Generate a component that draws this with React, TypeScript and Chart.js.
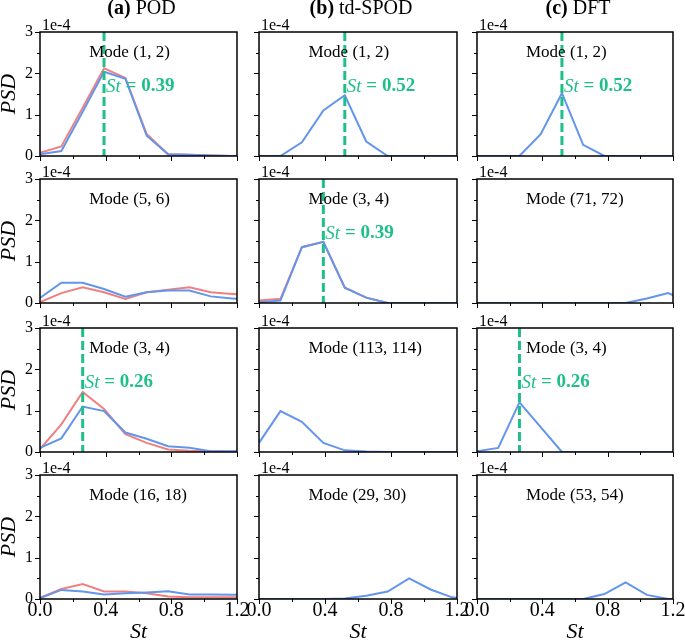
import React, { useEffect, useRef } from 'react';
import { Chart, registerables } from 'chart.js';

Chart.register(...registerables);

const FONT = '"Liberation Serif", "Times New Roman", Times, serif';

// ---------- data (PSD in units of 1e-4) ----------
const ST = [0, 0.13, 0.26, 0.39, 0.52, 0.65, 0.78, 0.91, 1.04, 1.17, 1.3];
const X_TICK_STEP = 0.4;
const Y_TICK_STEP = 1;
const COLUMN_TAGS = ['(a)', '(b)', '(c)'];
const COLUMN_NAMES = ['POD', 'td-SPOD', 'DFT'];

const MODES_ROW1 = ['Mode (1, 2)', 'Mode (1, 2)', 'Mode (1, 2)'];
const MODES_ROW2 = ['Mode (5, 6)', 'Mode (3, 4)', 'Mode (71, 72)'];
const MODES_ROW3 = ['Mode (3, 4)', 'Mode (113, 114)', 'Mode (3, 4)'];
const MODES_ROW4 = ['Mode (16, 18)', 'Mode (29, 30)', 'Mode (53, 54)'];

const PEAKS_ROW1 = [0.39, 0.52, 0.52];
const PEAKS_ROW2 = [null, 0.39, null];
const PEAKS_ROW3 = [0.26, null, 0.26];
const PEAKS_ROW4 = [null, null, null];

const POD_1_RED = [0.08, 0.23, 1.17, 2.12, 1.89, 0.53, 0.04, 0.03, 0.01, 0.0, 0.0];
const POD_1_BLUE = [0.04, 0.12, 1.07, 2.04, 1.87, 0.49, 0.04, 0.03, 0.01, 0.0, 0.0];
const SPOD_1_BLUE = [0, 0, 0.33, 1.1, 1.47, 0.35, 0, 0, 0, 0, 0];
const DFT_1_BLUE = [0, 0, 0, 0.53, 1.52, 0.27, 0, 0, 0, 0, 0];

const POD_2_RED = [0.02, 0.24, 0.38, 0.26, 0.1, 0.26, 0.32, 0.38, 0.26, 0.22, 0.18];
const POD_2_BLUE = [0.12, 0.49, 0.49, 0.34, 0.15, 0.26, 0.3, 0.3, 0.16, 0.11, 0.07];
const SPOD_2_RED = [0.06, 0.1, 1.35, 1.48, 0.37, 0.13, 0, 0, 0, 0, 0];
const SPOD_2_BLUE = [0.02, 0.06, 1.35, 1.48, 0.37, 0.13, 0, 0, 0, 0, 0];
const DFT_2_BLUE = [0, 0, 0, 0, 0, 0, 0, 0, 0.11, 0.24, 0.03];

const POD_3_RED = [0.07, 0.67, 1.45, 1.04, 0.43, 0.22, 0.06, 0.03, 0.02, 0.01, 0.01];
const POD_3_BLUE = [0.1, 0.33, 1.1, 0.99, 0.47, 0.32, 0.14, 0.1, 0.02, 0.02, 0.02];
const SPOD_3_BLUE = [0.22, 0.99, 0.73, 0.22, 0.04, 0.01, 0, 0, 0, 0, 0];
const DFT_3_BLUE = [0.02, 0.1, 1.2, 0.6, 0, 0, 0, 0, 0, 0, 0];

const POD_4_RED = [0.03, 0.24, 0.36, 0.18, 0.18, 0.14, 0.06, 0.04, 0.04, 0.04, 0.04];
const POD_4_BLUE = [0.02, 0.22, 0.18, 0.11, 0.14, 0.16, 0.19, 0.11, 0.11, 0.1, 0.1];
const SPOD_4_BLUE = [0, 0, 0, 0, 0.01, 0.08, 0.18, 0.5, 0.23, 0.04, 0];
const DFT_4_BLUE = [0, 0, 0, 0, 0, 0, 0.12, 0.4, 0.1, 0, 0];

const BLUE_ROWS = [
  [POD_1_BLUE, SPOD_1_BLUE, DFT_1_BLUE],
  [POD_2_BLUE, SPOD_2_BLUE, DFT_2_BLUE],
  [POD_3_BLUE, SPOD_3_BLUE, DFT_3_BLUE],
  [POD_4_BLUE, SPOD_4_BLUE, DFT_4_BLUE],
];
const RED_ROWS = [
  [POD_1_RED, null, null],
  [POD_2_RED, SPOD_2_RED, null],
  [POD_3_RED, null, null],
  [POD_4_RED, null, null],
];
const MODE_ROWS = [MODES_ROW1, MODES_ROW2, MODES_ROW3, MODES_ROW4];
const PEAK_ROWS = [PEAKS_ROW1, PEAKS_ROW2, PEAKS_ROW3, PEAKS_ROW4];

// ---------- layout / style ----------
const W = 685;
const H = 641;
const PLOT_LEFT = [40, 259, 477];
const PLOT_RIGHT = [237, 457, 673];
const PLOT_TOP = [32, 179, 328, 475];
const PLOT_H = 124;
const Y_AXIS_W = 40;
const X_AXIS_H = 30;
const BLUE = '#6495ed';
const RED = '#f08080';
const GREEN = '#1fbf8a';

type Spec = {
  row: number;
  col: number;
  blue: number[];
  red: number[] | null;
  mode: string;
  peak: number | null;
};

const toXY = (vals: number[]) => vals.map((v, i) => ({ x: ST[i], y: v }));

function makeDecor(p: Spec) {
  return {
    id: 'decor',
    afterDatasetsDraw(chart: any) {
      const { ctx, chartArea: a } = chart;
      const xs = chart.scales.x;
      const ys = chart.scales.y;
      ctx.save();
      // tick marks (major + minor), outward
      ctx.strokeStyle = '#000';
      ctx.lineWidth = 1;
      ctx.beginPath();
      for (let i = 0; i <= 6; i++) {
        const py = Math.round(ys.getPixelForValue(i * 0.5)) + 0.5;
        const len = i % 2 === 0 ? 5 : 3;
        ctx.moveTo(a.left - len, py);
        ctx.lineTo(a.left, py);
      }
      for (let i = 0; i <= 6; i++) {
        const px = Math.round(xs.getPixelForValue(i * 0.2)) + 0.5;
        const len = i % 2 === 0 ? 5 : 3;
        ctx.moveTo(px, a.bottom);
        ctx.lineTo(px, a.bottom + len);
      }
      ctx.stroke();
      // frame
      ctx.lineWidth = 1.5;
      ctx.strokeRect(a.left, a.top, a.right - a.left, a.bottom - a.top);

      // offset label
      ctx.fillStyle = '#000';
      ctx.textAlign = 'left';
      ctx.textBaseline = 'alphabetic';
      ctx.font = `16px ${FONT}`;
      ctx.fillText('1e-4', a.left + 2, a.top - 2);

      // mode label
      ctx.textBaseline = 'middle';
      ctx.font = `17px ${FONT}`;
      ctx.fillText(p.mode, xs.getPixelForValue(0.3), ys.getPixelForValue(2.5));

      // peak label
      if (p.peak != null) {
        ctx.fillStyle = GREEN;
        let x0 = xs.getPixelForValue(p.peak) + 2;
        const y0 = ys.getPixelForValue(1.68);
        ctx.font = `italic 19px ${FONT}`;
        ctx.fillText('St', x0, y0);
        x0 += ctx.measureText('St').width;
        ctx.font = `bold 19px ${FONT}`;
        ctx.fillText(' = ' + p.peak.toFixed(2), x0, y0);
      }

      ctx.fillStyle = '#000';
      // y title
      if (p.col === 0) {
        ctx.save();
        ctx.translate(9, (a.top + a.bottom) / 2);
        ctx.rotate(-Math.PI / 2);
        ctx.textAlign = 'center';
        ctx.textBaseline = 'middle';
        ctx.font = `italic 22px ${FONT}`;
        ctx.fillText('PSD', 0, 0);
        ctx.restore();
      }
      // x title
      if (p.row === 3) {
        ctx.textAlign = 'center';
        ctx.textBaseline = 'middle';
        ctx.font = `italic 22px ${FONT}`;
        ctx.fillText('St', (a.left + a.right) / 2, a.bottom + 33);
      }
      // column title
      if (p.row === 0) {
        const tag = COLUMN_TAGS[p.col];
        const name = ' ' + COLUMN_NAMES[p.col];
        ctx.textAlign = 'left';
        ctx.textBaseline = 'middle';
        ctx.font = `bold 20px ${FONT}`;
        const w1 = ctx.measureText(tag).width;
        ctx.font = `20px ${FONT}`;
        const w2 = ctx.measureText(name).width;
        let x = (a.left + a.right) / 2 + 3 - (w1 + w2) / 2;
        const y = a.top - 23;
        ctx.font = `bold 20px ${FONT}`;
        ctx.fillText(tag, x, y);
        x += w1;
        ctx.font = `20px ${FONT}`;
        ctx.fillText(name, x, y);
      }
      ctx.restore();
    },
  };
}

function Panel({ spec }: { spec: Spec }) {
  const ref = useRef<HTMLCanvasElement>(null);
  useEffect(() => {
    const { row, col } = spec;
    const datasets: any[] = [];
    datasets.push({
      data: spec.peak != null ? [{ x: spec.peak, y: 3 }, { x: spec.peak, y: 0 }] : [],
      borderColor: GREEN,
      borderWidth: 3,
      borderDash: [9, 4],
      pointRadius: 0,
    });
    datasets.push({
      data: toXY(spec.blue),
      borderColor: BLUE,
      borderWidth: 2,
      pointRadius: 0,
      tension: 0,
    });
    if (spec.red) {
      datasets.push({
        data: toXY(spec.red),
        borderColor: RED,
        borderWidth: 2,
        pointRadius: 0,
        tension: 0,
      });
    }
    const chart = new Chart(ref.current as HTMLCanvasElement, {
      type: 'line',
      data: { datasets },
      options: {
        responsive: false,
        animation: false,
        devicePixelRatio: 1,
        layout: {
          padding: {
            left: PLOT_LEFT[col] - Y_AXIS_W,
            right: W - PLOT_RIGHT[col],
            top: PLOT_TOP[row],
            bottom: H - (PLOT_TOP[row] + PLOT_H) - X_AXIS_H,
          },
        },
        plugins: { legend: { display: false }, title: { display: false }, tooltip: { enabled: false } },
        scales: {
          x: {
            type: 'linear',
            min: 0,
            max: 1.2,
            afterFit: (s: any) => {
              s.height = X_AXIS_H;
              s.paddingLeft = 0;
              s.paddingRight = 0;
            },
            grid: { display: false, drawTicks: false },
            border: { display: false },
            ticks: {
              stepSize: X_TICK_STEP,
              autoSkip: false,
              maxRotation: 0,
              padding: 0,
              color: '#000',
              font: { family: FONT, size: 20 },
              callback: (v: any) => (row === 3 ? Number(v).toFixed(1) : ''),
            },
          },
          y: {
            type: 'linear',
            min: 0,
            max: 3,
            afterFit: (s: any) => {
              s.width = Y_AXIS_W;
              s.paddingTop = 0;
              s.paddingBottom = 0;
            },
            grid: { display: false, drawTicks: false },
            border: { display: false },
            ticks: {
              stepSize: Y_TICK_STEP,
              autoSkip: false,
              padding: 7,
              color: '#000',
              font: { family: FONT, size: 16 },
              callback: (v: any) => (col === 0 ? String(Math.round(Number(v))) : ''),
            },
          },
        },
      },
      plugins: [makeDecor(spec)],
    } as any);
    return () => chart.destroy();
  }, [spec]);
  return (
    <canvas
      ref={ref}
      width={W}
      height={H}
      style={{ position: 'absolute', left: 0, top: 0, width: W, height: H }}
    />
  );
}

const SPECS: Spec[] = [];
for (let r = 0; r < 4; r++) {
  for (let c = 0; c < 3; c++) {
    SPECS.push({
      row: r,
      col: c,
      blue: BLUE_ROWS[r][c],
      red: RED_ROWS[r][c],
      mode: MODE_ROWS[r][c],
      peak: PEAK_ROWS[r][c],
    });
  }
}

export default function App() {
  return (
    <div style={{ position: 'absolute', left: 0, top: 0, width: W, height: H, background: '#fff' }}>
      {SPECS.map((s) => (
        <Panel key={`${s.row}-${s.col}`} spec={s} />
      ))}
    </div>
  );
}
